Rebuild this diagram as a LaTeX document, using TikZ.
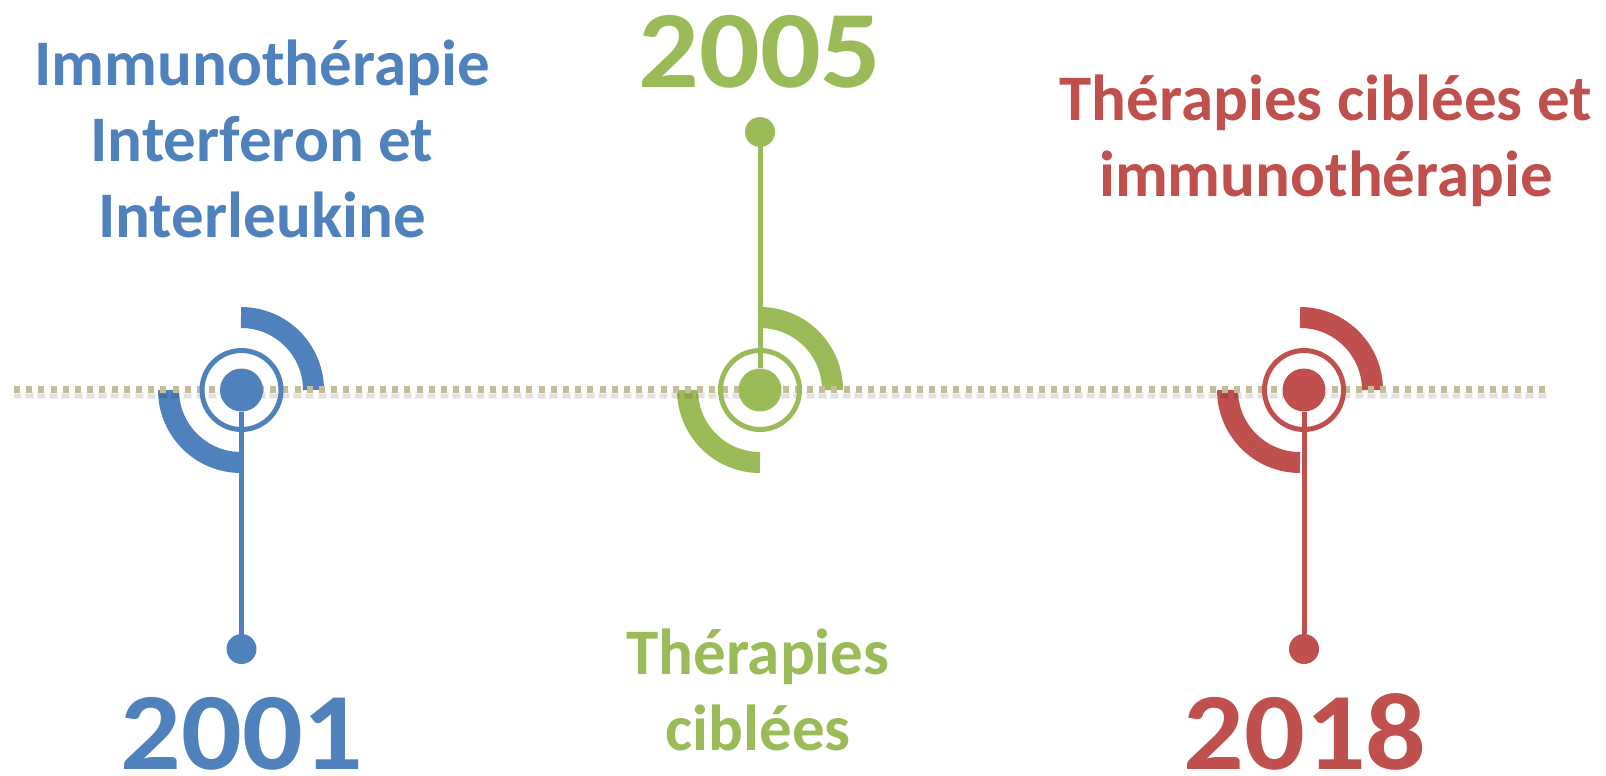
\documentclass[tikz,border=0pt]{standalone}
\usepackage{fontspec}
\setmainfont{Carlito}
\newfontfamily\yearfont[FakeStretch=1.09]{Carlito}
\definecolor{cblue}{HTML}{4F81BD}
\definecolor{cgreen}{HTML}{9BBB59}
\definecolor{cred}{HTML}{C0504D}
\definecolor{ctan}{HTML}{C4BD97}
\begin{document}
\begin{tikzpicture}[x=1pt,y=1pt,
  year/.style={inner sep=0, anchor=base, font=\yearfont\bfseries\fontsize{110}{110}\selectfont},
  lbl/.style={inner sep=0, anchor=base, align=center, font=\bfseries\fontsize{65}{76}\selectfont},
  arcband/.style={line width=21},
  ring/.style={circle, draw, line width=5, minimum size=79, inner sep=0},
  hub/.style={circle, fill, minimum size=43, inner sep=0},
  tip/.style={circle, fill, minimum size=30, inner sep=0},
  stem/.style={line width=5},
  dots/.style={line width=6.5, dash pattern=on 6 off 6.2},
]
\path[use as bounding box] (0,0) rectangle (1606,-776);

% arcs
\draw[arcband, cblue] (241,-390) ++(0,72.5) arc[start angle=90, end angle=0, radius=72.5];
\draw[arcband, cblue] (241,-390) ++(-72.5,0) arc[start angle=180, end angle=270, radius=72.5];
\draw[arcband, cgreen] (760,-390) ++(0,72.5) arc[start angle=90, end angle=0, radius=72.5];
\draw[arcband, cgreen] (760,-390) ++(-72.5,0) arc[start angle=180, end angle=270, radius=72.5];
\draw[arcband, cred] (1300,-390) ++(0,72.5) arc[start angle=90, end angle=0, radius=72.5];
\draw[arcband, cred] (1300,-390) ++(-72.5,0) arc[start angle=180, end angle=270, radius=72.5];

% timeline with soft shadow
\coordinate (lineL) at (14,-389.5);
\coordinate (lineR) at (1548,-389.5);
\draw[black, opacity=0.05, line width=7, dash pattern=on 9 off 3.2, dash phase=1.5] ([yshift=-6]lineL) -- ([yshift=-6]lineR);
\draw[black, opacity=0.07, line width=4, dash pattern=on 7 off 5.2, dash phase=0.5] ([yshift=-6]lineL) -- ([yshift=-6]lineR);
\draw[dots, ctan] (lineL) -- (lineR);

% blue 2001
\node[ring, cblue] (b-ring) at (241.5,-390) {};
\node[hub, cblue] (b-hub) at (241.5,-390) {};
\node[tip, cblue] (b-tip) at (241.5,-649) {};
\draw[stem, cblue] (b-hub) -- (b-tip);

% green 2005
\node[ring, cgreen] (g-ring) at (760,-390) {};
\node[hub, cgreen] (g-hub) at (760,-390) {};
\node[tip, cgreen] (g-tip) at (760,-132) {};
\draw[stem, cgreen] (g-hub) -- (g-tip);

% red 2018
\node[ring, cred] (r-ring) at (1304,-390) {};
\node[hub, cred] (r-hub) at (1304,-390) {};
\node[tip, cred] (r-tip) at (1304,-649) {};
\draw[stem, cred] (r-hub) -- (r-tip);

% texts
\node[year, cblue] (b-year) at (242,-769) {2001};
\node[year, cgreen] (g-year) at (760,-88) {2005};
\node[year, cred] (r-year) at (1305,-769) {2018};

\node[lbl, cblue] (b-text) at (262,-237) {Immunothérapie\\Interferon et\\Interleukine};
\node[lbl, cgreen] (g-text) at (758,-750) {Thérapies\\ciblées};
\node[lbl, cred] (r-text) at (1326,-196) {Thérapies ciblées et\\immunothérapie};
\end{tikzpicture}
\end{document}
